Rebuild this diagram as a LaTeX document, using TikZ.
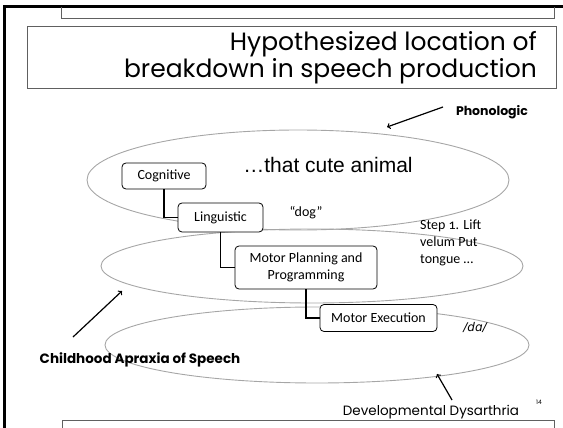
\documentclass[tikz,border=0pt]{standalone}
\usepackage{fontspec}
\setmainfont{Carlito}
\newfontfamily\gothic{Poppins}
\newfontfamily\arial{Liberation Sans}
\newfontfamily\ipa{DejaVu Sans}
\newfontfamily\stepfont[Numbers=OldStyle]{Carlito}
\usepackage{tikz}

\tikzset{
  stage/.style={draw, fill=white, rounded corners=4pt, line width=0.8pt, align=center,
    inner sep=0pt, font=\fontsize{14}{17}\selectfont},
  level/.style={draw=gray!70, line width=0.9pt},
  link/.style={line width=1.2pt},
  pointer/.style={->, line width=1.2pt},
  panel/.style={draw=gray!75!black, line width=0.8pt},
}

\begin{document}
\begin{tikzpicture}[x=1pt,y=-1pt]
    \useasboundingbox (0,0) rectangle (563,428);

    % slide frame
    \draw[line width=3pt] (4,428) -- (4,7) -- (563,7);
    \draw[panel] (61,7) -- (61,18) -- (554,18) -- (554,7);
    \draw[panel] (27,26) rectangle (556,88);
    \draw[panel] (62,428) -- (62,420) -- (554,420) -- (554,428);
    \node[anchor=east, inner sep=0pt, align=right, font=\gothic\fontsize{25}{27}\selectfont] (title) at (537,58)
        {Hypothesized location of\\breakdown in speech production};

    % levels
    \draw[level] (298,180) ellipse [x radius=211pt, y radius=50pt];
    \draw[level] (312,266) ellipse [x radius=211pt, y radius=37pt];
    \draw[level] (317,345) ellipse [x radius=212pt, y radius=38pt];

    % stages
    \node[stage, minimum width=84pt, minimum height=26pt] (cog) at (164,176) {Cognitive};
    \node[stage, minimum width=85pt, minimum height=29pt] (ling) at (220.5,217.5) {Linguistic};
    \node[stage, minimum width=142pt, minimum height=43pt] (plan) at (306,267.5) {Motor Planning and\\Programming};
    \node[stage, minimum width=117pt, minimum height=27pt] (exec) at (378.5,318) {Motor Execution};
    \draw[link] (cog.south) |- (ling.west);
    \draw[link] (ling.south) |- (plan.west);
    \draw[link] (plan.south) |- (exec.west);

    % examples
    \node[font=\arial\fontsize{21}{24}\selectfont] (phrase) at (328,165) {\ldots that cute animal};
    \node[font=\fontsize{14}{16}\selectfont] (word) at (306,213) {“dog”};
    \node[anchor=west, align=left, inner sep=0pt, font=\stepfont\fontsize{14}{17}\selectfont] (steps) at (420,243)
        {Step 1. Lift\\velum Put\\tongue \ldots};
    \node[font=\ipa\itshape\fontsize{12}{14}\selectfont] (sound) at (475,327) {/dɑ/};

    % disorders
    \node[font=\gothic\bfseries\fontsize{12.5}{14}\selectfont] (phon) at (492,112) {Phonologic};
    \node[font=\gothic\bfseries\fontsize{13.5}{15}\selectfont] (cas) at (140,360) {Childhood Apraxia of Speech};
    \node[font=\gothic\fontsize{13.5}{15}\selectfont] (dd) at (431,412) {Developmental Dysarthria};
    \node[font=\gothic\fontsize{6}{7}\selectfont] (page) at (539,402) {14};
    \coordinate (phontail) at (443,107);
    \coordinate (phontip) at (387,127);
    \coordinate (castail) at (73,337);
    \coordinate (castip) at (122,291);
    \coordinate (ddtail) at (452,400);
    \coordinate (ddtip) at (437,374);
    \draw[pointer] (phontail) -- (phontip);
    \draw[pointer] (castail) -- (castip);
    \draw[pointer] (ddtail) -- (ddtip);
\end{tikzpicture}
\end{document}
